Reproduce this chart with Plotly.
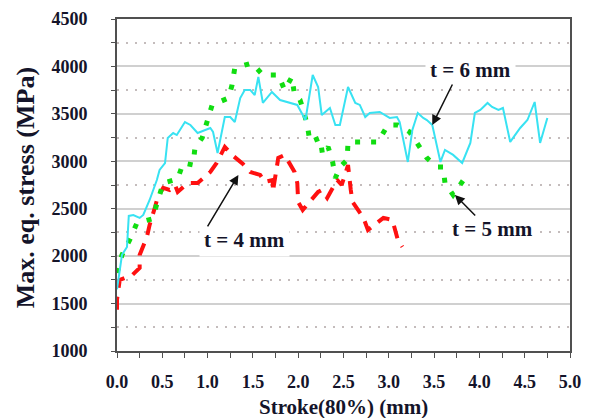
import plotly.graph_objects as go

# t = 6 mm (cyan solid)
x6 = [0.00, 0.055, 0.11, 0.13, 0.18, 0.25, 0.29, 0.36, 0.44, 0.47, 0.53, 0.56, 0.62, 0.66, 0.75, 0.81,
      0.89, 0.99, 1.03, 1.06, 1.11, 1.19, 1.25, 1.30, 1.36, 1.41, 1.47, 1.52, 1.56, 1.61, 1.66, 1.71,
      1.80, 1.91, 1.99, 2.08, 2.16, 2.22, 2.26, 2.35, 2.41, 2.46, 2.55, 2.63, 2.68, 2.74, 2.79, 2.90,
      3.01, 3.09, 3.12, 3.21, 3.26, 3.32, 3.38, 3.42, 3.48, 3.57, 3.62, 3.71, 3.81, 3.90, 3.95, 4.01,
      4.09, 4.14, 4.21, 4.26, 4.34, 4.45, 4.53, 4.61, 4.67, 4.75]
y6 = [1650, 2013, 2097, 2424, 2434, 2403, 2434, 2592, 2803, 2908, 2982, 3246, 3298, 3277, 3414, 3383,
      3298, 3330, 3351, 3309, 3088, 3467, 3467, 3414, 3667, 3752, 3752, 3699, 3889, 3615, 3678, 3731,
      3646, 3615, 3594, 3435, 3910, 3783, 3488, 3562, 3383, 3383, 3783, 3615, 3594, 3467, 3509, 3520,
      3457, 3467, 3414, 2993, 3330, 3509, 3457, 3435, 3383, 2993, 3119, 3067, 2982, 3193, 3509, 3541,
      3615, 3572, 3541, 3562, 3204, 3351, 3435, 3625, 3193, 3457]

# t = 5 mm (green dotted)
x5 = [0.00, 0.055, 0.14, 0.22, 0.39, 0.44, 0.51, 0.67, 0.73, 0.84, 0.86, 0.94, 0.99, 1.05, 1.23, 1.27,
      1.30, 1.49, 1.61, 1.78, 1.85, 1.93, 1.96, 2.02, 2.05, 2.10, 2.13, 2.24, 2.27, 2.33, 2.38, 2.41,
      2.46, 2.54, 2.55, 2.76, 2.88, 2.99, 3.10, 3.23, 3.32, 3.42, 3.53, 3.60, 3.62, 3.71, 3.84]
y5 = [1823, 2013, 2171, 2350, 2392, 2571, 2771, 2814, 2982, 2961, 3140, 3246, 3414, 3594, 3667, 3804,
      3984, 4036, 3910, 3910, 3752, 3889, 3699, 3646, 3562, 3383, 3204, 3246, 3067, 3151, 2993, 2824,
      2940, 3014, 3204, 3204, 3204, 3383, 3383, 3309, 3172, 3035, 2940, 2940, 2771, 2645, 2824]

# t = 4 mm (red dashed)
x4 = [0.00, 0.00, 0.03, 0.09, 0.17, 0.25, 0.25, 0.33, 0.36, 0.42, 0.45, 0.51, 0.58, 0.64, 0.67, 0.78,
      0.89, 1.03, 1.10, 1.19, 1.27, 1.39, 1.47, 1.58, 1.63, 1.72, 1.72, 1.78, 1.85, 1.96, 1.99, 2.00,
      2.05, 2.22, 2.26, 2.32, 2.43, 2.48, 2.55, 2.58, 2.60, 2.72, 2.77, 2.94, 3.04, 3.10, 3.15]
y4 = [1436, 1541, 1750, 1770, 1802, 1875, 2013, 2202, 2329, 2518, 2624, 2719, 2698, 2750, 2677, 2771,
      2771, 2887, 2982, 3151, 3067, 2972, 2887, 2856, 2782, 2803, 2677, 3035, 3067, 2887, 2771, 2571,
      2487, 2677, 2698, 2613, 2803, 2750, 2960, 2700, 2571, 2403, 2276, 2403, 2381, 2171, 2097]

x_ticks = [0.0, 0.5, 1.0, 1.5, 2.0, 2.5, 3.0, 3.5, 4.0, 4.5, 5.0]
y_ticks = [1000, 1500, 2000, 2500, 3000, 3500, 4000, 4500]

SERIF = "Liberation Serif"
TXT = "#14142a"

fig = go.Figure()
fig.add_trace(go.Scatter(x=x4, y=y4, mode="lines", name="t = 4 mm",
                         line=dict(color="#ff1010", width=4, dash="13px,9px")))
fig.add_trace(go.Scatter(x=x5, y=y5, mode="lines", name="t = 5 mm",
                         line=dict(color="#11dd11", width=5, dash="5px,11px")))
fig.add_trace(go.Scatter(x=x6, y=y6, mode="lines", name="t = 6 mm",
                         line=dict(color="#38e2f2", width=2)))

ann_font = dict(family=SERIF, size=21, color=TXT)
labels = [
    ("t = 6 mm", 3.90, 3962, 3.71, 3825, 3.48, 3383),
    ("t = 4 mm", 1.41, 2171, 0.99, 2297, 1.34, 2856),
    ("t = 5 mm", 4.15, 2287, 3.97, 2413, 3.73, 2645),
]
for txt, tx, ty, ax_, ay_, hx, hy in labels:
    fig.add_annotation(x=tx, y=ty, text="<b>%s</b>" % txt, showarrow=False, font=ann_font,
                       bgcolor="white", borderpad=4)
    fig.add_annotation(x=hx, y=hy, ax=ax_, ay=ay_, axref="x", ayref="y", text="",
                       showarrow=True, arrowhead=2, arrowsize=1.3, arrowwidth=1.5,
                       arrowcolor="#111111")

# axis titles
fig.add_annotation(x=0, y=0.49, xref="paper", yref="paper", xshift=-92, textangle=-90,
                   xanchor="center", yanchor="middle",
                   text="<b>Max. eq. stress (MPa)</b>", showarrow=False,
                   font=dict(family=SERIF, size=26, color=TXT))
fig.add_annotation(x=0.5, y=0, xref="paper", yref="paper", yshift=-56,
                   xanchor="center", yanchor="middle",
                   text="<b>Stroke(80%) (mm)</b>", showarrow=False,
                   font=dict(family=SERIF, size=21, color=TXT))

# page body has an 8px margin, so the figure is 8px smaller and its margins are offset
fig.update_layout(
    width=584, height=410,
    margin=dict(l=109, r=22, t=11, b=67, autoexpand=False),
    paper_bgcolor="white", plot_bgcolor="white",
    showlegend=False,
    font=dict(family=SERIF, color=TXT),
)
fig.update_xaxes(range=[0, 5], tickvals=x_ticks, ticktext=["<b>%.1f</b>" % v for v in x_ticks],
                 showgrid=False, zeroline=False, showline=True, linecolor="#505050", linewidth=2,
                 mirror=True, ticks="outside", ticklen=5, tickcolor="#505050", automargin=False,
                 minor=dict(dtick=0.25, ticks="outside", ticklen=5, tickcolor="#505050"),
                 tickfont=dict(family=SERIF, size=18, color=TXT), ticklabelstandoff=8)
fig.update_yaxes(range=[1000, 4500], tickvals=y_ticks, ticktext=["<b>%d</b>" % v for v in y_ticks],
                 showgrid=True, gridcolor="#d0d0d0", gridwidth=1.5, zeroline=False,
                 showline=True, linecolor="#505050", linewidth=2, mirror=True, automargin=False,
                 ticks="outside", ticklen=4, tickcolor="#505050",
                 minor=dict(dtick=250, ticks="outside", ticklen=4, tickcolor="#505050",
                            showgrid=True, gridcolor="#c4bcbc", griddash="2px,7px", gridwidth=1.5),
                 tickfont=dict(family=SERIF, size=18, color=TXT), ticklabelstandoff=20)

fig.write_html("out.html")
